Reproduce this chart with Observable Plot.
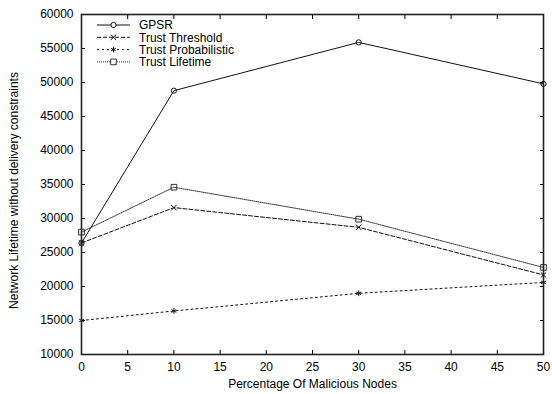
<!DOCTYPE html>
<html>
<head>
<meta charset="utf-8">
<script src="https://cdn.jsdelivr.net/npm/d3@7"></script>
<script src="https://cdn.jsdelivr.net/npm/@observablehq/plot@0.6"></script>
<style>
  html, body { margin: 0; padding: 0; background: #fff; }
  #chart { width: 552px; height: 394px; }
</style>
</head>
<body>
<div id="chart"></div>
<script>
const percent = [0, 10, 30, 50];
const seriesNames = ["GPSR", "Trust Threshold", "Trust Probabilistic", "Trust Lifetime"];
const gpsr = [26400, 48800, 55900, 49800];
const trustThreshold = [26400, 31600, 28700, 21700];
const trustProbabilistic = [15000, 16400, 19000, 20600];
const trustLifetime = [28000, 34600, 29900, 22800];
const xTicks = [0, 5, 10, 15, 20, 25, 30, 35, 40, 45, 50];
const yTicks = [10000, 15000, 20000, 25000, 30000, 35000, 40000, 45000, 50000, 55000, 60000];
const xLabel = "Percentage Of Malicious Nodes";
const yLabel = "Network Lifetime without delivery constraints";

const valuesBySeries = [gpsr, trustThreshold, trustProbabilistic, trustLifetime];
const styles = [
  {symbol: "circle", r: 2.6, dash: null, stroke: "#111"},
  {symbol: "times", r: 2.6, dash: "4,2", stroke: "#111"},
  {symbol: "asterisk", r: 2.6, dash: "2,3", stroke: "#111"},
  {symbol: "square", r: 3.2, dash: "1,1", stroke: "#333"}
];
const rows = [];
seriesNames.forEach((name, i) => {
  percent.forEach((p, j) => rows.push({series: name, x: p, y: valuesBySeries[i][j]}));
});

const lineMarks = [];
const dotMarks = [];
seriesNames.forEach((name, i) => {
  const data = rows.filter(d => d.series === name);
  const s = styles[i];
  lineMarks.push(Plot.line(data, {x: "x", y: "y", stroke: s.stroke, strokeWidth: 1, strokeDasharray: s.dash}));
  dotMarks.push(Plot.dot(data, {x: "x", y: "y", symbol: () => s.symbol, r: s.r, stroke: s.stroke, fill: "none", strokeWidth: 1}));
});

const fmt = d => String(d);
const chart = Plot.plot({
  width: 552,
  height: 394,
  marginLeft: 81,
  marginRight: 9,
  marginTop: 14,
  marginBottom: 40,
  style: {fontFamily: "'Liberation Sans', Arial, sans-serif", fontSize: "12px", color: "#000", background: "#fff"},
  x: {domain: [0, 50]},
  y: {domain: [10000, 60000]},
  symbol: {type: "identity"},
  marks: [
    Plot.axisX(xTicks, {anchor: "bottom", tickSize: -4, tickPadding: 12, tickFormat: fmt, label: null, fontSize: 12}),
    Plot.axisX(xTicks, {anchor: "top", tickSize: -4, tickFormat: () => "", label: null}),
    Plot.axisY(yTicks, {anchor: "left", tickSize: -4, tickPadding: 12, tickFormat: fmt, label: null, fontSize: 12}),
    Plot.axisY(yTicks, {anchor: "right", tickSize: -4, tickFormat: () => "", label: null}),
    ...lineMarks,
    ...dotMarks,
    Plot.frame({stroke: "#222", strokeWidth: 1.6}),
    Plot.text([xLabel], {frameAnchor: "bottom", dy: 33, text: d => d, fontSize: 12, textAnchor: "middle"}),
    Plot.text([yLabel], {frameAnchor: "left", rotate: -90, dx: -67, dy: 6, text: d => d, fontSize: 12, textAnchor: "middle"})
  ]
});

document.getElementById("chart").appendChild(chart);

// Legend inside the plot area (top-left)
const svg = d3.select(chart);
const leg = svg.append("g")
  .attr("font-family", "'Liberation Sans', Arial, sans-serif")
  .attr("font-size", 12)
  .attr("text-anchor", "start");
const symbolTypes = {circle: d3.symbolCircle, times: d3.symbolTimes, asterisk: d3.symbolAsterisk, square: d3.symbolSquare};
seriesNames.forEach((name, i) => {
  const s = styles[i];
  const y = 25 + i * 12.3;
  leg.append("line").attr("x1", 97).attr("x2", 130).attr("y1", y).attr("y2", y)
    .attr("stroke", s.stroke).attr("stroke-width", 1).attr("stroke-dasharray", s.dash);
  leg.append("path").attr("transform", `translate(113.5,${y})`)
    .attr("d", d3.symbol(symbolTypes[s.symbol], Math.PI * s.r * s.r)())
    .attr("fill", s.symbol === "circle" || s.symbol === "square" ? "#fff" : "none")
    .attr("stroke", s.stroke).attr("stroke-width", 1);
  leg.append("text").attr("x", 139).attr("y", y).attr("dy", "0.35em").attr("fill", "#000")
    .attr("text-anchor", "start").text(name);
});
</script>
</body>
</html>
